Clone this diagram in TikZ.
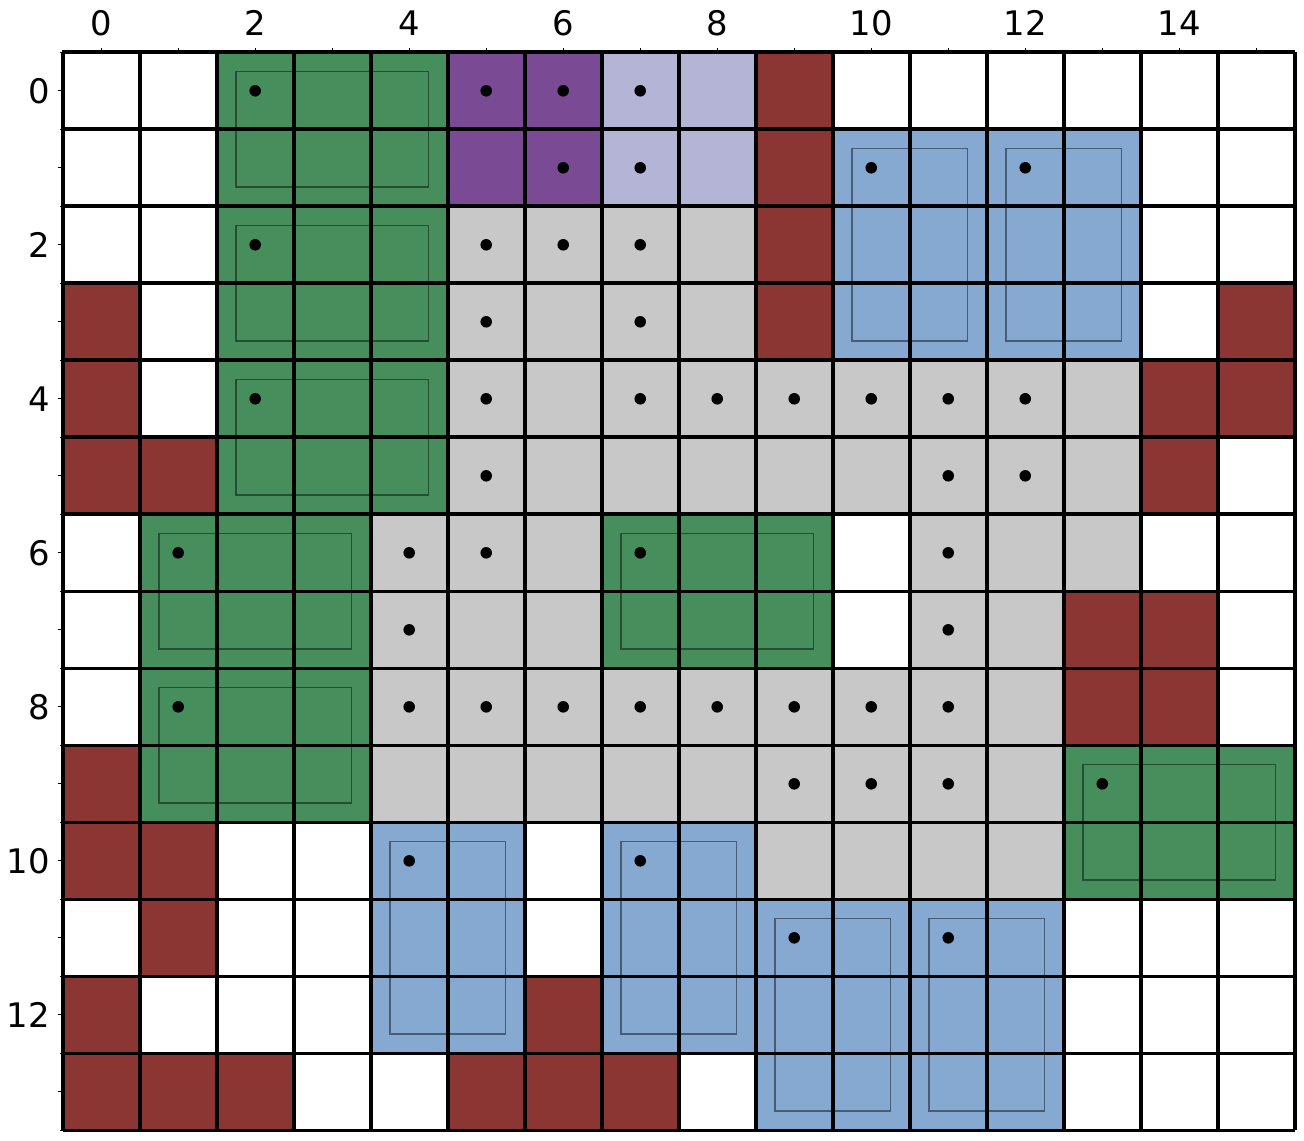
\documentclass[tikz,border=0pt]{standalone}
\usepackage{fontspec}
\setmainfont{DejaVu Sans}
\definecolor{cgreen}{RGB}{70,143,93}
\definecolor{cred}{RGB}{139,54,51}
\definecolor{cpurple}{RGB}{123,74,148}
\definecolor{clav}{RGB}{180,180,214}
\definecolor{cgray}{RGB}{200,200,200}
\definecolor{cblue}{RGB}{134,169,210}
\tikzset{
  gridline/.style={line width=1.35pt, black},
  inner/.style={draw=black, draw opacity=0.45, line width=0.5pt},
  dot/.style={circle, fill=black, inner sep=0pt, minimum size=0.15cm},
  ticklab/.style={font=\fontsize{12.5}{14}\selectfont, inner sep=0pt},
  tickmaj/.style={line width=0.4pt, black},
}
\begin{document}
\begin{tikzpicture}[x=1cm,y=-1cm]
\useasboundingbox[fill=white] (-0.814,-0.679) rectangle (16.12,14.126);
% cell edges (light)
\foreach \c in {0,...,15} \foreach \r in {0,...,13}
  \draw[gray!45, line width=0.3pt] (\c,\r) rectangle ++(1,1);
% fills
\foreach \a/\b/\cc/\d in {2/0/5/6, 1/6/4/10, 7/6/10/8, 13/9/16/11}
  \fill[cgreen] (\a,\b) rectangle (\cc,\d);
\fill[cpurple] (5,0) rectangle (7,2);
\fill[clav] (7,0) rectangle (9,2);
\foreach \a/\b/\cc/\d in {9/0/10/4, 0/3/1/6, 1/5/2/6, 15/3/16/5, 14/4/15/6, 13/7/15/9, 0/9/1/11, 1/10/2/12, 0/12/1/14, 1/13/3/14, 6/12/7/13, 5/13/8/14}
  \fill[cred] (\a,\b) rectangle (\cc,\d);
\foreach \a/\b/\cc/\d in {10/1/14/4, 4/10/6/13, 7/10/9/13, 9/11/13/14}
  \fill[cblue] (\a,\b) rectangle (\cc,\d);
\foreach \a/\b/\cc/\d in {5/2/9/4, 5/4/14/6, 4/6/7/8, 11/6/14/7, 11/7/13/8, 4/8/13/10, 9/10/13/11}
  \fill[cgray] (\a,\b) rectangle (\cc,\d);
% inner rectangles
\foreach \a/\b/\cc/\d in {2/0/5/2, 2/2/5/4, 2/4/5/6, 1/6/4/8, 1/8/4/10, 7/6/10/8, 13/9/16/11,
  10/1/12/4, 12/1/14/4, 4/10/6/13, 7/10/9/13, 9/11/11/14, 11/11/13/14}
  \draw[inner] (\a+0.25,\b+0.25) rectangle (\cc-0.25,\d-0.25);
% grid
\foreach \x in {0,...,16} \draw[gridline] (\x,0) -- (\x,14);
\foreach \y in {0,...,14} \draw[gridline] (0,\y) -- (16,\y);
% ticks
\foreach \c in {0,...,15} \draw[tickmaj] (\c+0.5,0) -- (\c+0.5,-0.06);
\foreach \c in {0,...,16} \draw[tickmaj] (\c,0) -- (\c,-0.035);
\foreach \r in {0,...,13} \draw[tickmaj] (0,\r+0.5) -- (-0.06,\r+0.5);
\foreach \r in {0,...,14} \draw[tickmaj] (0,\r) -- (-0.035,\r);
\foreach \c in {0,2,...,14} \node[ticklab, anchor=base] (xl\c) at (\c+0.5,-0.212) {\c};
\foreach \r in {0,2,...,12} \node[ticklab, anchor=east] (yl\r) at (-0.163,\r+0.5) {\r};
% dots
\foreach \c/\r in {2/0,5/0,6/0,7/0, 6/1,7/1,10/1,12/1, 2/2,5/2,6/2,7/2, 5/3,7/3,
  2/4,5/4,7/4,8/4,9/4,10/4,11/4,12/4, 5/5,11/5,12/5, 1/6,4/6,5/6,7/6,11/6, 4/7,11/7,
  1/8,4/8,5/8,6/8,7/8,8/8,9/8,10/8,11/8, 9/9,10/9,11/9,13/9, 4/10,7/10, 9/11,11/11}
  \node[dot] (d\c-\r) at (\c+0.5,\r+0.5) {};
\end{tikzpicture}
\end{document}
